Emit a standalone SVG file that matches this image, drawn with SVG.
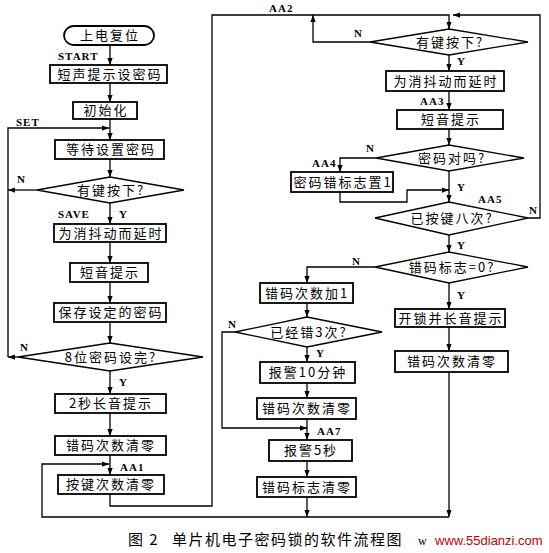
<svg xmlns="http://www.w3.org/2000/svg" width="549" height="553" viewBox="0 0 549 553">
<style>
.b{fill:#fff;stroke:#000;stroke-width:1.8}
.d{fill:#fff;stroke:#000;stroke-width:1.3}
.c{fill:none;stroke:#000;stroke-width:1.3}
.t{font-family:"Noto Sans CJK SC",sans-serif;font-size:13px;letter-spacing:2px;text-anchor:middle;fill:#000}
.l{font-family:"Liberation Serif",serif;font-size:11px;font-weight:bold;letter-spacing:1px;fill:#000}
.cap{font-family:"Noto Sans CJK SC",sans-serif;font-size:15px;letter-spacing:1.5px;fill:#000}
</style>
<defs>
<marker id="a" viewBox="0 0 8 8" refX="8" refY="4" markerWidth="7" markerHeight="7" orient="auto" markerUnits="userSpaceOnUse"><path d="M0,1 L8,4 L0,7 z" fill="#000"/></marker>
</defs>
<rect width="549" height="553" fill="#fff"/>

<g id="connectors">
<path class="c" d="M110,45 V65" marker-end="url(#a)"/>
<path class="c" d="M110,83 V102" marker-end="url(#a)"/>
<path class="c" d="M110,119 V140" marker-end="url(#a)"/>
<path class="c" d="M8,357 V128 H109" marker-end="url(#a)"/>
<path class="c" d="M110,159 V177" marker-end="url(#a)"/>
<path class="c" d="M37,190 H8" marker-end="url(#a)"/>
<path class="c" d="M110,203 V224" marker-end="url(#a)"/>
<path class="c" d="M110,242 V263" marker-end="url(#a)"/>
<path class="c" d="M110,282 V303" marker-end="url(#a)"/>
<path class="c" d="M110,322 V343" marker-end="url(#a)"/>
<path class="c" d="M18,357 H8" marker-end="url(#a)"/>
<path class="c" d="M110,371 V394" marker-end="url(#a)"/>
<path class="c" d="M110,413 V436" marker-end="url(#a)"/>
<path class="c" d="M110,455 V475" marker-end="url(#a)"/>
<path class="c" d="M110,494 V506 H212 V15 H449 V29" marker-end="url(#a)"/>
<path class="c" d="M370,42 H313 V15" marker-end="url(#a)"/>
<path class="c" d="M449,55 V71" marker-end="url(#a)"/>
<path class="c" d="M449,91 V110" marker-end="url(#a)"/>
<path class="c" d="M449,129 V145" marker-end="url(#a)"/>
<path class="c" d="M376,158 H340 V172" marker-end="url(#a)"/>
<path class="c" d="M340,192 V202 H407 V190 H449" marker-end="url(#a)"/>
<path class="c" d="M449,171 V202" marker-end="url(#a)"/>
<path class="c" d="M528,218 H540 V15 H453" marker-end="url(#a)"/>
<path class="c" d="M449,235 V252" marker-end="url(#a)"/>
<path class="c" d="M375,267 H307 V283" marker-end="url(#a)"/>
<path class="c" d="M449,283 V309" marker-end="url(#a)"/>
<path class="c" d="M307,303 V317" marker-end="url(#a)"/>
<path class="c" d="M235,332 H222 V428 H307" marker-end="url(#a)"/>
<path class="c" d="M307,347 V362" marker-end="url(#a)"/>
<path class="c" d="M307,383 V398" marker-end="url(#a)"/>
<path class="c" d="M307,419 V440" marker-end="url(#a)"/>
<path class="c" d="M307,461 V477" marker-end="url(#a)"/>
<path class="c" d="M307,497 V517" marker-end="url(#a)"/>
<path class="c" d="M449,327 V351" marker-end="url(#a)"/>
<path class="c" d="M449,372 V517" marker-end="url(#a)"/>
<path class="c" d="M449,517 H42 V464 H109" marker-end="url(#a)"/>
</g>

<g id="labels">
<text class="l" x="58" y="60">START</text>
<text class="l" x="16" y="126">SET</text>
<text class="l" x="17" y="183">N</text>
<text class="l" x="58" y="218">SAVE</text>
<text class="l" x="119" y="218">Y</text>
<text class="l" x="20" y="351">N</text>
<text class="l" x="119" y="386">Y</text>
<text class="l" x="120" y="471">AA1</text>
<text class="l" x="269" y="12">AA2</text>
<text class="l" x="354" y="37">N</text>
<text class="l" x="457" y="65">Y</text>
<text class="l" x="420" y="105">AA3</text>
<text class="l" x="366" y="152">N</text>
<text class="l" x="312" y="167">AA4</text>
<text class="l" x="457" y="191">Y</text>
<text class="l" x="478" y="203">AA5</text>
<text class="l" x="529" y="214">N</text>
<text class="l" x="457" y="249">Y</text>
<text class="l" x="352" y="265">N</text>
<text class="l" x="457" y="299">Y</text>
<text class="l" x="228" y="328">N</text>
<text class="l" x="316" y="357">Y</text>
<text class="l" x="317" y="435">AA7</text>
</g>

<g id="n_start"><rect class="b" x="64" y="26" width="90" height="19" rx="9.5"/><text class="t" x="110" y="40">上电复位</text></g>
<g id="n_b1"><rect class="b" x="50" y="65" width="117" height="18"/><text class="t" x="110" y="79">短声提示设密码</text></g>
<g id="n_b2"><rect class="b" x="73" y="102" width="64" height="17"/><text class="t" x="106" y="115">初始化</text></g>
<g id="n_b3"><rect class="b" x="55" y="140" width="109" height="19"/><text class="t" x="111" y="154">等待设置密码</text></g>
<g id="n_d1"><polygon class="d" points="37,190 110,177 184,190 110,203"/><text class="t" x="111" y="195">有键按下?</text></g>
<g id="n_b4"><rect class="b" x="54" y="224" width="112" height="18"/><text class="t" x="111" y="238">为消抖动而延时</text></g>
<g id="n_b5"><rect class="b" x="70" y="263" width="78" height="19"/><text class="t" x="110" y="277">短音提示</text></g>
<g id="n_b6"><rect class="b" x="54" y="303" width="112" height="19"/><text class="t" x="111" y="317">保存设定的密码</text></g>
<g id="n_d2"><polygon class="d" points="18,357 110,343 203,357 110,371"/><text class="t" x="111" y="362">8位密码设完?</text></g>
<g id="n_b7"><rect class="b" x="55" y="394" width="111" height="19"/><text class="t" x="111" y="408">2秒长音提示</text></g>
<g id="n_b8"><rect class="b" x="55" y="436" width="111" height="19"/><text class="t" x="111" y="450">错码次数清零</text></g>
<g id="n_b9"><rect class="b" x="58" y="475" width="106" height="19"/><text class="t" x="111" y="489">按键次数清零</text></g>

<g id="n_d3"><polygon class="d" points="370,42 449,29 528,42 449,55"/><text class="t" x="450" y="47">有键按下?</text></g>
<g id="n_r1"><rect class="b" x="386" y="71" width="118" height="20"/><text class="t" x="446" y="86">为消抖动而延时</text></g>
<g id="n_r2"><rect class="b" x="397" y="110" width="106" height="19"/><text class="t" x="451" y="124">短音提示</text></g>
<g id="n_d4"><polygon class="d" points="376,158 449,145 524,158 449,171"/><text class="t" x="452" y="163">密码对吗?</text></g>
<g id="n_r3"><rect class="b" x="291" y="172" width="102" height="20"/><text class="t" x="343" y="187">密码错标志置1</text></g>
<g id="n_d5"><polygon class="d" points="375,218 449,202 528,218 449,235"/><text class="t" x="452" y="223">已按键八次?</text></g>
<g id="n_d6"><polygon class="d" points="375,267 449,252 528,267 449,283"/><text class="t" x="452" y="272">错码标志=0?</text></g>
<g id="n_r4"><rect class="b" x="260" y="283" width="93" height="20"/><text class="t" x="307" y="298">错码次数加1</text></g>
<g id="n_r5"><rect class="b" x="395" y="309" width="110" height="18"/><text class="t" x="451" y="323">开锁并长音提示</text></g>
<g id="n_d7"><polygon class="d" points="235,332 307,317 382,332 307,347"/><text class="t" x="309" y="337">已经错3次?</text></g>
<g id="n_r6"><rect class="b" x="395" y="351" width="113" height="21"/><text class="t" x="452" y="366">错码次数清零</text></g>
<g id="n_r7"><rect class="b" x="260" y="362" width="95" height="21"/><text class="t" x="308" y="377">报警10分钟</text></g>
<g id="n_r8"><rect class="b" x="257" y="398" width="99" height="21"/><text class="t" x="307" y="413">错码次数清零</text></g>
<g id="n_r9"><rect class="b" x="269" y="440" width="83" height="21"/><text class="t" x="311" y="455">报警5秒</text></g>
<g id="n_r10"><rect class="b" x="257" y="477" width="99" height="20"/><text class="t" x="307" y="492">错码标志清零</text></g>

<g id="caption">
<text class="cap" x="128" y="545">图 2</text>
<text class="cap" x="172" y="545">单片机电子密码锁的软件流程图</text>
<text x="418" y="545" font-family="Liberation Serif,serif" font-size="12" fill="#000">w</text>
<text x="435" y="545" font-family="Liberation Sans,sans-serif" font-size="13" fill="#c00000">www.55dianzi.com</text>
</g>
</svg>
